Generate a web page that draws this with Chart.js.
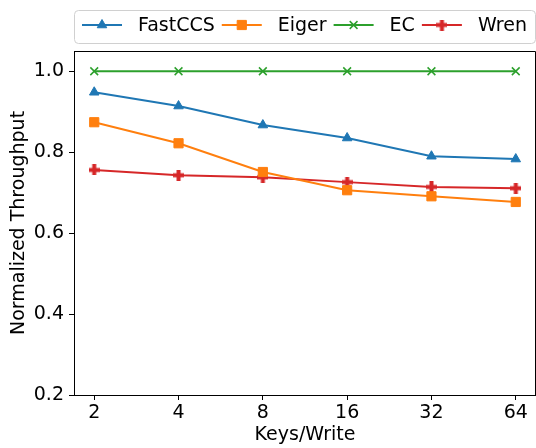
<!DOCTYPE html>
<html>
<head>
<meta charset="utf-8">
<script src="https://cdn.jsdelivr.net/npm/chart.js@4/dist/chart.umd.min.js"></script>
<style>
html, body { margin: 0; padding: 0; background: #fff; }
canvas { display: block; }
</style>
</head>
<body>
<canvas id="throughputChart" width="536" height="448"></canvas>
<script>
const keysPerWrite = ['2', '4', '8', '16', '32', '64'];
const fastCcs = [0.948, 0.914, 0.867, 0.835, 0.790, 0.783];
const eiger = [0.874, 0.822, 0.751, 0.706, 0.691, 0.677];
const ec = [1.0, 1.0, 1.0, 1.0, 1.0, 1.0];
const wren = [0.756, 0.743, 0.738, 0.726, 0.714, 0.711];
const yTicks = [0.2, 0.4, 0.6, 0.8, 1.0];

const FONT = '"DejaVu Sans", "Liberation Sans", sans-serif';
Chart.defaults.font.family = FONT;
Chart.defaults.font.size = 19;
Chart.defaults.color = '#000';

// filled plus marker (like matplotlib 'P')
function plusMarker(color, size, arm) {
    const c = document.createElement('canvas');
    c.width = size;
    c.height = size;
    const g = c.getContext('2d');
    g.fillStyle = color;
    const o = (size - arm) / 2;
    g.fillRect(o, 0, arm, size);
    g.fillRect(0, o, size, arm);
    return c;
}

function series(label, values, color, style, radius, extra) {
    return Object.assign({
        label,
        data: values.map((v, i) => ({ x: i, y: v })),
        borderColor: color,
        backgroundColor: color,
        pointBackgroundColor: color,
        pointBorderColor: color,
        borderWidth: 2,
        pointStyle: style,
        pointRadius: radius,
        pointHoverRadius: radius,
        pointBorderWidth: 1,
        tension: 0
    }, extra || {});
}

const datasets = [
    series('FastCCS', fastCcs, '#1f77b4', 'triangle', 5.5),
    series('Eiger', eiger, '#ff7f0e', 'rect', 6.5),
    series('EC', ec, '#2ca02c', 'crossRot', 5.5, { pointBorderWidth: 1.5 }),
    series('Wren', wren, '#d62728', plusMarker('#d62728', 11, 4), 5.5)
];

// legend with line + marker samples inside a rounded box
const lineLegend = {
    id: 'lineLegend',
    afterDraw(chart) {
        const { ctx, chartArea } = chart;
        const top = 10, bottom = 43, cy = 25;
        const left = chartArea.left, right = chartArea.right;
        ctx.save();
        ctx.beginPath();
        ctx.roundRect(left + 0.5, top + 0.5, right - left - 1, bottom - top, 4);
        ctx.fillStyle = 'rgba(255,255,255,0.8)';
        ctx.fill();
        ctx.strokeStyle = '#d0d0d0';
        ctx.lineWidth = 1;
        ctx.stroke();

        ctx.font = '19px ' + FONT;
        ctx.textBaseline = 'middle';
        ctx.textAlign = 'left';
        let x = left + 8;
        chart.data.datasets.forEach(ds => {
            ctx.strokeStyle = ds.borderColor;
            ctx.lineWidth = ds.borderWidth;
            ctx.beginPath();
            ctx.moveTo(x, cy);
            ctx.lineTo(x + 40, cy);
            ctx.stroke();
            ctx.fillStyle = ds.pointBackgroundColor;
            ctx.strokeStyle = ds.pointBorderColor;
            ctx.lineWidth = ds.pointBorderWidth;
            Chart.helpers.drawPoint(ctx, {
                pointStyle: ds.pointStyle,
                radius: ds.pointRadius,
                borderWidth: ds.pointBorderWidth,
                rotation: 0
            }, x + 20, cy);
            ctx.fillStyle = '#000';
            ctx.fillText(ds.label, x + 56, cy + 1);
            x += 56 + ctx.measureText(ds.label).width + 7;
        });
        ctx.restore();
    }
};

// top and right spines
const frame = {
    id: 'frame',
    beforeDatasetsDraw(chart) {
        const { ctx, chartArea: a } = chart;
        ctx.save();
        ctx.strokeStyle = '#000';
        ctx.lineWidth = 1;
        ctx.beginPath();
        ctx.moveTo(a.left, a.top + 0.5);
        ctx.lineTo(a.right - 0.5, a.top + 0.5);
        ctx.lineTo(a.right - 0.5, a.bottom);
        ctx.stroke();
        ctx.restore();
    }
};

new Chart(document.getElementById('throughputChart'), {
    type: 'line',
    data: { datasets },
    plugins: [frame, lineLegend],
    options: {
        responsive: false,
        animation: false,
        devicePixelRatio: 1,
        layout: { autoPadding: false, padding: { top: 51, right: 0, left: 0, bottom: 0 } },
        plugins: {
            legend: { display: false },
            tooltip: { enabled: false }
        },
        scales: {
            x: {
                type: 'linear',
                min: -0.24,
                max: 5.24,
                afterBuildTicks: s => { s.ticks = keysPerWrite.map((_, i) => ({ value: i })); },
                afterFit: s => { s.height = 53; s.paddingLeft = 0; s.paddingRight = 0; },
                ticks: {
                    padding: 2,
                    callback: v => keysPerWrite[v],
                    font: { size: 19 }
                },
                grid: {
                    drawOnChartArea: false,
                    drawTicks: true,
                    tickLength: 5,
                    color: '#000'
                },
                border: { display: true, color: '#000', width: 1 },
                title: {
                    display: true,
                    text: 'Keys/Write',
                    font: { size: 19, lineHeight: 1.2 },
                    padding: { top: 0, bottom: 2 }
                }
            },
            y: {
                min: 0.2,
                max: 1.05,
                afterBuildTicks: s => { s.ticks = yTicks.map(v => ({ value: v })); },
                afterFit: s => { s.width = 74; s.paddingTop = 0; s.paddingBottom = 0; },
                ticks: {
                    padding: 5,
                    callback: v => v.toFixed(1),
                    font: { size: 19 }
                },
                grid: {
                    drawOnChartArea: false,
                    drawTicks: true,
                    tickLength: 5,
                    color: '#000'
                },
                border: { display: true, color: '#000', width: 1 },
                title: {
                    display: true,
                    text: 'Normalized Throughput',
                    font: { size: 19, lineHeight: 1.2 },
                    padding: { top: 8, bottom: 0 }
                }
            }
        }
    }
});
</script>
</body>
</html>
